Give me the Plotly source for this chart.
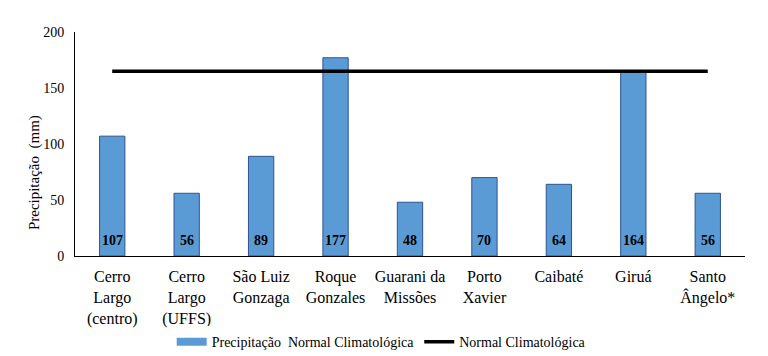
import plotly.graph_objects as go

categories = ["Cerro<br>Largo<br>(centro)", "Cerro<br>Largo<br>(UFFS)", "São Luiz<br>Gonzaga",
              "Roque<br>Gonzales", "Guarani da<br>Missões", "Porto<br>Xavier", "Caibaté",
              "Giruá", "Santo<br>Ângelo*"]
precip = [107, 56, 89, 177, 48, 70, 64, 164, 56]
normal = [165] * len(categories)

ff = "Liberation Serif"
bar_color = "#5B9BD5"

fig = go.Figure()
fig.add_trace(go.Bar(
    x=categories, y=precip, name="bars", showlegend=False,
    marker=dict(color=bar_color, line=dict(color="#2F528F", width=1)),
    width=0.34,
))
# legend proxy for bars (wide rectangle)
fig.add_trace(go.Scatter(
    x=[None], y=[None], mode="lines", name="Precipitação\u00a0 Normal Climatológica",
    line=dict(color=bar_color, width=8),
))
fig.add_trace(go.Scatter(
    x=categories, y=normal, name="Normal Climatológica", mode="lines",
    line=dict(color="black", width=3.5),
))

for c, v in zip(categories, precip):
    fig.add_annotation(x=c, y=0, text=f"<b>{v}</b>", showarrow=False,
                       yanchor="bottom", yshift=6,
                       font=dict(family=ff, size=14, color="black"))

# y-axis title
fig.add_annotation(xref="paper", yref="paper", x=0, y=0.37, xshift=-41,
                   text="Precipitação\u00a0 (mm)", textangle=-90, showarrow=False,
                   xanchor="center", yanchor="middle",
                   font=dict(family=ff, size=15, color="black"))

fig.update_layout(
    width=768, height=356,
    margin=dict(l=75, r=23, t=32, b=100, autoexpand=False),
    plot_bgcolor="white", paper_bgcolor="white",
    font=dict(family=ff, size=14, color="black"),
    showlegend=True,
    legend=dict(orientation="h", x=0.457, xanchor="center", y=-0.385, yanchor="middle",
                font=dict(size=14, family=ff), traceorder="normal"),
)
fig.update_xaxes(showline=True, linecolor="black", linewidth=1, ticks="", automargin=False,
                 tickfont=dict(size=16, family=ff), ticklabelstandoff=6)
fig.update_yaxes(range=[0, 200], dtick=50, showline=True, linecolor="black", linewidth=1,
                 showgrid=False, zeroline=False, ticks="", automargin=False,
                 tickfont=dict(size=14, family=ff), ticklabelstandoff=7)

fig.write_html("out.html", config={"displayModeBar": False},
               post_script="document.body.style.margin='0';")
